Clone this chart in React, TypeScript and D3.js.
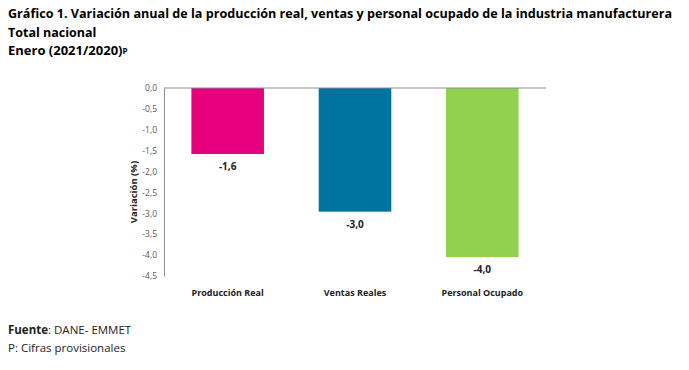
import React, { useEffect, useRef } from 'react';
import * as d3 from 'd3';

const categories = ['Producción Real', 'Ventas Reales', 'Personal Ocupado'];
const values = [-1.58, -2.96, -4.05];
const labels = ['-1,6', '-3,0', '-4,0'];
const colors = ['#e6007e', '#0073a0', '#92d050'];
const yTicks = [0, -0.5, -1, -1.5, -2, -2.5, -3, -3.5, -4, -4.5];

const titleLines = [
    'Gráfico 1. Variación anual de la producción real, ventas y personal ocupado de la industria manufacturera',
    'Total nacional',
];

const W = 689;
const H = 370;
const font = '"Open Sans", sans-serif';

const App = () => {
    const ref = useRef<SVGSVGElement>(null);

    useEffect(() => {
        const svg = d3.select(ref.current);
        svg.selectAll('*').remove();

        const plot = {left: 164, right: 546, top: 88, bottom: 276};

        const x = d3.scaleBand()
            .domain(categories)
            .range([plot.left, plot.right])
            .paddingInner(0.43)
            .paddingOuter(0.215);

        const y = d3.scaleLinear()
            .domain([0, -4.5])
            .range([plot.top, plot.bottom]);

        // titles
        const title = svg.append('g')
            .attr('font-family', font)
            .attr('font-weight', 700)
            .attr('fill', '#000');
        title.selectAll('text.line')
            .data(titleLines)
            .enter()
            .append('text')
            .attr('class', 'line')
            .attr('x', 8)
            .attr('y', (d, i) => 18 + i * 18.5)
            .attr('font-size', 12.5)
            .attr('textLength', (d, i) => i === 0 ? 664 : null)
            .attr('lengthAdjust', 'spacingAndGlyphs')
            .text((d) => d);
        const sub = title.append('text')
            .attr('x', 8)
            .attr('y', 55)
            .attr('font-size', 13);
        sub.append('tspan').text('Enero (2021/2020)');
        sub.append('tspan').attr('font-size', 8).attr('dy', -1).text('P');

        // bars
        svg.append('g')
            .selectAll('rect')
            .data(values)
            .enter()
            .append('rect')
            .attr('x', (d, i) => x(categories[i]))
            .attr('y', y(0))
            .attr('width', x.bandwidth())
            .attr('height', (d) => y(d) - y(0))
            .attr('fill', (d, i) => colors[i]);

        // value labels
        svg.append('g')
            .selectAll('text')
            .data(values)
            .enter()
            .append('text')
            .attr('x', (d, i) => x(categories[i]) + x.bandwidth() / 2)
            .attr('y', (d) => y(d) + 16)
            .attr('text-anchor', 'middle')
            .attr('font-family', font)
            .attr('font-weight', 700)
            .attr('font-size', 10)
            .attr('fill', '#222')
            .text((d, i) => labels[i]);

        // y axis
        const yAxis = svg.append('g')
            .attr('transform', `translate(${plot.left},0)`)
            .call(d3.axisLeft(y)
                .tickValues(yTicks)
                .tickSize(0)
                .tickPadding(7)
                .tickFormat((d) => d3.format('.1f')(d).replace('.', ',').replace('−', '-')));
        yAxis.select('.domain').attr('stroke', '#8c8c8c');
        yAxis.selectAll('text')
            .attr('font-family', font)
            .attr('font-size', 8.5)
            .attr('fill', '#595959');

        // zero line at top
        svg.append('line')
            .attr('x1', plot.left)
            .attr('x2', plot.right)
            .attr('y1', y(0))
            .attr('y2', y(0))
            .attr('stroke', '#8c8c8c');

        // category labels
        svg.append('g')
            .selectAll('text')
            .data(categories)
            .enter()
            .append('text')
            .attr('x', (d) => x(d) + x.bandwidth() / 2)
            .attr('y', 296)
            .attr('text-anchor', 'middle')
            .attr('font-family', font)
            .attr('font-weight', 700)
            .attr('font-size', 9)
            .attr('fill', '#222')
            .text((d) => d);

        // y title
        svg.append('text')
            .attr('transform', `translate(137,${(plot.top + plot.bottom) / 2 + 10}) rotate(-90)`)
            .attr('text-anchor', 'middle')
            .attr('font-family', font)
            .attr('font-weight', 700)
            .attr('font-size', 9.5)
            .attr('fill', '#222')
            .text('Variación (%)');

        // footer
        const f1 = svg.append('text')
            .attr('x', 8)
            .attr('y', 334)
            .attr('font-family', font)
            .attr('font-size', 11.5)
            .attr('fill', '#222');
        f1.append('tspan').attr('font-weight', 700).text('Fuente');
        f1.append('tspan').text(': DANE- EMMET');
        svg.append('text')
            .attr('x', 8)
            .attr('y', 352)
            .attr('font-family', font)
            .attr('font-size', 11.5)
            .attr('fill', '#222')
            .text('P: Cifras provisionales');
    }, []);

    return (
        <svg ref={ref} width={W} height={H}
            style={{position: 'absolute', left: 0, top: 0, background: '#fff'}} />
    );
};

export default App;
